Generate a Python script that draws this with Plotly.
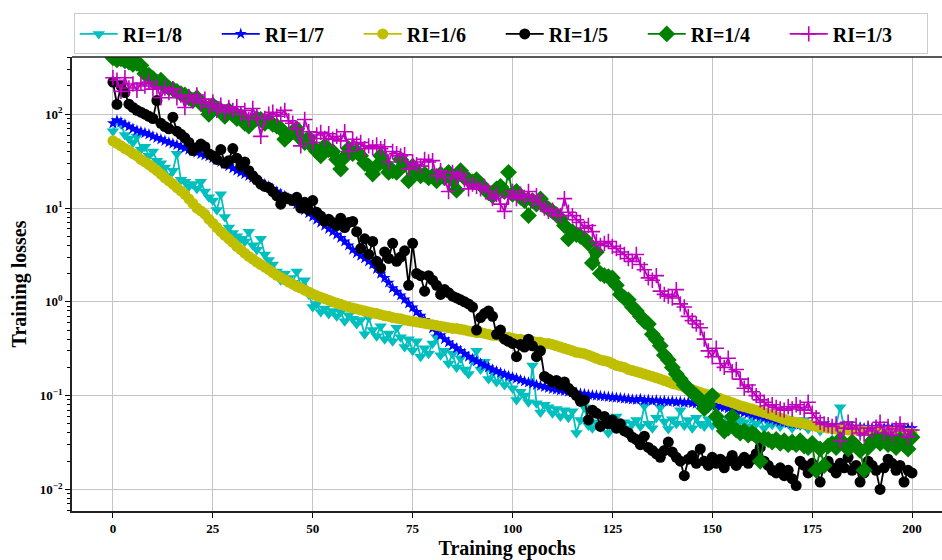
import plotly.graph_objects as go

# Training loss per epoch for each RI setting (epochs 0..200)
ri_1_8 = [
    66, 85, 78, 60, 55, 50, 58, 42, 45, 36, 40,
    32, 30, 27, 22, 25, 38, 20, 19, 17, 18,
    16, 19, 15, 13, 12, 9.5, 14, 8, 6.2, 5.4,
    5.0, 4.7, 4.4, 5.6, 4.0, 3.6, 4.7, 3.2, 2.8, 2.5,
    2.1, 1.7, 2.0, 1.8, 1.6, 2.1, 1.5, 1.7, 1.2, 0.88,
    0.95, 0.78, 0.85, 0.74, 0.80, 0.70, 0.78, 0.62, 0.72, 0.66,
    0.58, 0.64, 0.45, 0.68, 0.50, 0.43, 0.55, 0.40, 0.46, 0.38,
    0.53, 0.42, 0.33, 0.40, 0.30, 0.38, 0.26, 0.32, 0.28, 0.36,
    0.42, 0.27, 0.30, 0.22, 0.28, 0.20, 0.25, 0.19, 0.17, 0.24,
    0.30, 0.19, 0.23, 0.15, 0.18, 0.14, 0.17, 0.13, 0.16, 0.12,
    0.09, 0.11, 0.10, 0.085, 0.21, 0.083, 0.066, 0.08, 0.075, 0.065,
    0.072, 0.06, 0.07, 0.058, 0.068, 0.04, 0.055, 0.075, 0.048, 0.045,
    0.052, 0.046, 0.055, 0.04, 0.05, 0.06, 0.048, 0.052, 0.045, 0.05,
    0.055, 0.047, 0.078, 0.05, 0.045, 0.058, 0.075, 0.053, 0.044, 0.056,
    0.05, 0.07, 0.048, 0.055, 0.045, 0.058, 0.05, 0.047, 0.056, 0.048,
    0.06, 0.052, 0.048, 0.057, 0.05, 0.046, 0.055, 0.052, 0.047, 0.058,
    0.05, 0.056, 0.045, 0.052, 0.049, 0.055, 0.047, 0.053, 0.05, 0.045,
    0.052, 0.048, 0.055, 0.044, 0.05, 0.047, 0.042, 0.05, 0.046, 0.043,
    0.048, 0.075, 0.045, 0.05, 0.042, 0.046, 0.04, 0.045, 0.043, 0.039,
    0.044, 0.041, 0.046, 0.04, 0.043, 0.038, 0.042, 0.04, 0.037, 0.041,
]

ri_1_7 = [
    80, 86, 82, 78, 74, 70, 67, 65, 63, 61, 58,
    56, 54, 52, 50, 48.5, 47, 45, 43.5, 42, 40.5,
    39, 37.5, 36.5, 35.5, 34, 32.5, 31, 29.5, 28, 26.5,
    25, 24, 23, 22, 21, 20, 19, 18, 17, 16,
    15, 14.2, 13.4, 12.6, 11.8, 11.0, 10.2, 9.5, 8.8, 8.1,
    7.5, 7.0, 6.5, 6.0, 5.6, 5.2, 4.8, 4.4, 4.0, 3.6,
    3.3, 3.1, 2.9, 2.7, 2.5, 2.25, 2.0, 1.8, 1.6, 1.4,
    1.28, 1.17, 1.06, 0.96, 0.87, 0.78, 0.71, 0.64, 0.58, 0.52,
    0.48, 0.44, 0.40, 0.37, 0.34, 0.32, 0.30, 0.28, 0.26, 0.245,
    0.232, 0.22, 0.21, 0.20, 0.19, 0.182, 0.175, 0.168, 0.162, 0.157,
    0.152, 0.147, 0.142, 0.138, 0.134, 0.130, 0.127, 0.124, 0.121, 0.118,
    0.116, 0.114, 0.112, 0.110, 0.108, 0.107, 0.105, 0.104, 0.102, 0.101,
    0.100, 0.099, 0.098, 0.097, 0.096, 0.095, 0.094, 0.093, 0.092, 0.091,
    0.090, 0.092, 0.089, 0.090, 0.088, 0.089, 0.087, 0.088, 0.086, 0.087,
    0.085, 0.086, 0.084, 0.085, 0.083, 0.082, 0.083, 0.081, 0.080, 0.079,
    0.078, 0.076, 0.075, 0.073, 0.072, 0.070, 0.068, 0.066, 0.065, 0.063,
    0.061, 0.060, 0.058, 0.057, 0.056, 0.054, 0.053, 0.052, 0.051, 0.050,
    0.050, 0.049, 0.049, 0.048, 0.048, 0.047, 0.048, 0.047, 0.047, 0.046,
    0.047, 0.046, 0.046, 0.047, 0.046, 0.045, 0.046, 0.045, 0.046, 0.045,
    0.046, 0.045, 0.045, 0.046, 0.045, 0.045, 0.046, 0.045, 0.045, 0.045,
]

ri_1_6 = [
    52, 49, 46, 43, 41, 38, 36, 33, 31, 29, 27,
    25, 23, 21, 19.5, 18, 16.5, 15.2, 14.0, 12.5, 11.2,
    10.0, 9.3, 8.6, 7.6, 6.9, 6.2, 5.6, 5.1, 4.7, 4.3,
    3.9, 3.6, 3.3, 3.05, 2.85, 2.65, 2.5, 2.35, 2.2, 2.05,
    1.92, 1.82, 1.72, 1.62, 1.54, 1.46, 1.40, 1.33, 1.27, 1.21,
    1.16, 1.12, 1.08, 1.04, 1.00, 0.97, 0.94, 0.91, 0.88, 0.86,
    0.84, 0.82, 0.80, 0.78, 0.76, 0.75, 0.73, 0.71, 0.70, 0.68,
    0.67, 0.66, 0.64, 0.63, 0.62, 0.61, 0.60, 0.59, 0.58, 0.57,
    0.56, 0.55, 0.54, 0.53, 0.52, 0.52, 0.51, 0.50, 0.49, 0.48,
    0.47, 0.47, 0.46, 0.45, 0.44, 0.44, 0.43, 0.42, 0.42, 0.41,
    0.40, 0.40, 0.39, 0.38, 0.38, 0.37, 0.37, 0.36, 0.36, 0.35,
    0.34, 0.33, 0.32, 0.31, 0.30, 0.29, 0.285, 0.28, 0.27, 0.26,
    0.25, 0.24, 0.235, 0.23, 0.22, 0.21, 0.205, 0.20, 0.19, 0.185,
    0.18, 0.175, 0.17, 0.165, 0.16, 0.155, 0.15, 0.145, 0.14, 0.135,
    0.132, 0.128, 0.124, 0.12, 0.116, 0.112, 0.108, 0.105, 0.102, 0.099,
    0.096, 0.093, 0.09, 0.087, 0.084, 0.081, 0.078, 0.076, 0.074, 0.072,
    0.070, 0.068, 0.066, 0.064, 0.062, 0.060, 0.058, 0.056, 0.054, 0.053,
    0.052, 0.051, 0.050, 0.049, 0.048, 0.047, 0.046, 0.046, 0.045, 0.045,
    0.044, 0.044, 0.044, 0.043, 0.043, 0.043, 0.043, 0.042, 0.042, 0.042,
    0.042, 0.042, 0.041, 0.041, 0.041, 0.041, 0.040, 0.040, 0.040, 0.040,
]

ri_1_5 = [
    220, 127, 200, 170, 128, 118, 110, 105, 100, 95, 90,
    140, 80, 74, 70, 93, 66, 61, 56, 50, 41,
    44, 48, 45, 38, 36, 33, 42, 30, 32, 43,
    34, 28, 31, 25, 22, 20, 18, 17, 16.5, 15,
    13.5, 11, 13, 12.5, 12, 13, 10, 11.5, 9.5, 12,
    9, 8.2, 7.2, 7.6, 7.0, 6.5, 7.8, 6.2, 7.0, 7.2,
    5.6, 3.7, 4.7, 3.2, 4.4, 2.7, 2.3, 3.4, 2.9, 4.2,
    2.7, 3.0, 3.5, 1.5, 4.2, 2.0, 1.9, 1.3, 1.9, 1.7,
    1.5, 1.2, 1.35, 1.25, 1.15, 1.1, 1.05, 1.0, 0.95, 0.88,
    0.50, 0.68, 0.75, 0.80, 0.70, 0.45, 0.50, 0.40, 0.38, 0.36,
    0.26, 0.35, 0.33, 0.40, 0.34, 0.26, 0.30, 0.16, 0.15, 0.14,
    0.145, 0.13, 0.14, 0.12, 0.11, 0.10, 0.087, 0.09, 0.055, 0.07,
    0.065, 0.047, 0.06, 0.05, 0.055, 0.045, 0.05, 0.042, 0.04, 0.036,
    0.034, 0.03, 0.037, 0.028, 0.026, 0.024, 0.022, 0.026, 0.032, 0.025,
    0.022, 0.02, 0.014, 0.021, 0.023, 0.019, 0.027, 0.02, 0.018, 0.022,
    0.019, 0.021, 0.017, 0.02, 0.023, 0.018, 0.02, 0.022, 0.019, 0.021,
    0.024, 0.028, 0.02, 0.018, 0.016, 0.015, 0.017, 0.014, 0.016, 0.013,
    0.011, 0.02, 0.018, 0.015, 0.019, 0.017, 0.012, 0.018, 0.02, 0.017,
    0.015, 0.019, 0.017, 0.022, 0.016, 0.018, 0.012, 0.015, 0.02, 0.018,
    0.016, 0.01, 0.017, 0.021, 0.019, 0.016, 0.018, 0.012, 0.016, 0.015,
]

ri_1_4 = [
    400, 380, 390, 370, 360, 340, 350, 330, 270, 260, 240,
    220, 230, 200, 190, 185, 175, 165, 160, 150, 140,
    150, 130, 120, 100, 125, 115, 110, 95, 110, 100,
    90, 95, 80, 75, 85, 90, 88, 80, 85, 78,
    75, 70, 54, 60, 65, 70, 55, 50, 56, 45,
    40, 36, 46, 42, 40, 33, 26, 35, 43, 38,
    40, 36, 30, 28, 23, 28, 36, 30, 24, 25,
    24, 33, 29, 19.5, 28, 24, 22, 23, 21, 22,
    19.5, 23, 21, 24, 20, 15.5, 25, 21, 20, 19,
    20, 18, 16, 14.5, 13.5, 16, 17, 15, 24, 14,
    15, 13, 12, 8.3, 12, 11, 12.5, 10.5, 9.8, 9.2,
    8.5, 7.7, 6.5, 4.7, 5.6, 5.2, 5.0, 4.7, 4.2, 2.6,
    3.4, 2.0, 1.9, 1.85, 1.8, 1.5, 1.2, 1.1, 1.05, 0.88,
    0.80, 0.70, 0.62, 0.58, 0.45, 0.40, 0.34, 0.27, 0.24, 0.20,
    0.17, 0.15, 0.13, 0.12, 0.107, 0.10, 0.09, 0.073, 0.08, 0.10,
    0.06, 0.05, 0.042, 0.045, 0.06, 0.043, 0.04, 0.042, 0.038, 0.04,
    0.037, 0.02, 0.035, 0.034, 0.032, 0.034, 0.031, 0.033, 0.030, 0.032,
    0.03, 0.033, 0.029, 0.028, 0.031, 0.016, 0.027, 0.018, 0.029, 0.031,
    0.028, 0.034, 0.03, 0.027, 0.032, 0.029, 0.026, 0.016, 0.028, 0.033,
    0.035, 0.031, 0.036, 0.03, 0.033, 0.028, 0.034, 0.03, 0.027, 0.036,
]

ri_1_3 = [
    245, 230, 175, 245, 190, 210, 180, 215, 200, 220, 185,
    195, 150, 190, 170, 185, 150, 160, 118, 155, 140,
    160, 130, 145, 120, 135, 110, 125, 105, 118, 110,
    120, 100, 110, 88, 115, 95, 58, 90, 100, 105,
    95, 100, 110, 85, 80, 70, 46, 88, 65, 50,
    60, 64, 55, 62, 54, 58, 52, 65, 40, 54,
    48, 50, 43, 46, 44, 47, 43, 45, 31, 40,
    38, 36, 37, 26, 31, 29, 28, 33, 31, 32,
    22, 25, 21, 15, 24, 21, 23, 20, 16, 18,
    17, 16, 17, 15, 12.6, 14, 11, 9.2, 13, 15,
    12.6, 14, 13, 15, 12, 13.5, 11, 10, 9.2, 9.5,
    8.5, 8.3, 12.6, 9, 8.3, 7.5, 7.0, 6.1, 6.5, 5.6,
    4.4, 4.0, 4.2, 4.4, 3.9, 3.7, 3.4, 3.2, 2.9, 2.7,
    3.2, 2.5, 2.2, 1.8, 1.7, 1.9, 1.3, 1.2, 1.15, 1.1,
    1.35, 0.95, 0.88, 0.70, 0.63, 0.58, 0.53, 0.40, 0.30, 0.26,
    0.32, 0.22, 0.20, 0.25, 0.18, 0.19, 0.15, 0.12, 0.13, 0.11,
    0.10, 0.09, 0.085, 0.078, 0.08, 0.075, 0.072, 0.07, 0.076, 0.072,
    0.08, 0.075, 0.07, 0.085, 0.065, 0.058, 0.052, 0.05, 0.049, 0.047,
    0.05, 0.033, 0.045, 0.052, 0.044, 0.048, 0.04, 0.038, 0.045, 0.042,
    0.046, 0.052, 0.04, 0.047, 0.038, 0.044, 0.05, 0.042, 0.036, 0.043,
]

labels = ["RI=1/8", "RI=1/7", "RI=1/6", "RI=1/5", "RI=1/4", "RI=1/3"]
series = [ri_1_8, ri_1_7, ri_1_6, ri_1_5, ri_1_4, ri_1_3]
colors = ["#00bfbf", "#0000ff", "#bfbf00", "#000000", "#008000", "#bf00bf"]
symbols = ["triangle-down", "star", "circle", "circle", "diamond", "cross-thin"]
sizes = [11, 9, 11, 11, 13, 11]

# decade ticks with power-of-ten labels, minor ticks at 2..9 within each decade
y_decades = [-2, -1, 0, 1, 2]
y_tickvals = [10.0 ** e for e in y_decades]
y_ticktext = ["10<sup>%s</sup>" % str(e).replace("-", "\u2212") for e in y_decades]
y_minor = [k * 10.0 ** e for e in range(-3, 3) for k in range(2, 10)]

SERIF = "Liberation Serif"

fig = go.Figure()
for name, vals, col, sym, sz in zip(labels, series, colors, symbols, sizes):
    marker = dict(symbol=sym, size=sz, color=col)
    if sym == "cross-thin":
        marker["line"] = dict(color=col, width=1.6)
    else:
        marker["line"] = dict(width=0)
    fig.add_trace(go.Scatter(
        x=list(range(len(vals))), y=vals, name=name, mode="lines+markers",
        line=dict(color=col, width=1.8), marker=marker,
    ))

tick_font = dict(family=SERIF, size=13, color="black", weight="bold")
title_font = dict(family=SERIF, size=20, color="black", weight="bold")

fig.update_layout(
    width=942, height=560,
    margin=dict(l=72, r=0, t=57, b=45),
    paper_bgcolor="white", plot_bgcolor="white",
    showlegend=True,
    legend=dict(
        orientation="h", x=0.002, xanchor="left", y=1.096, yanchor="top",
        font=dict(family=SERIF, size=20, color="black", weight="bold"),
        bordercolor="#cccccc", borderwidth=1, bgcolor="white",
        itemwidth=38, entrywidth=89, entrywidthmode="pixels",
        tracegroupgap=0,
    ),
    xaxis=dict(
        range=[-10.25, 207.5], tickmode="array",
        tickvals=[0, 25, 50, 75, 100, 125, 150, 175, 200],
        ticks="outside", ticklen=5, tickwidth=1, tickcolor="black",
        showgrid=True, gridcolor="#c4c4c4", gridwidth=1.2,
        showline=True, linecolor="#222222", linewidth=1.6,
        zeroline=False, tickfont=tick_font,
        title=dict(text="Training epochs", font=title_font, standoff=10),
    ),
    yaxis=dict(
        type="log", range=[-2.23, 2.61], tickmode="array",
        tickvals=y_tickvals, ticktext=y_ticktext,
        ticks="outside", ticklen=5, tickwidth=1, tickcolor="black",
        minor=dict(tickmode="array", tickvals=y_minor, ticks="outside",
                   ticklen=3, tickcolor="black", showgrid=False),
        showgrid=True, gridcolor="#c4c4c4", gridwidth=1.2,
        showline=True, linecolor="#222222", linewidth=1.6,
        zeroline=False, tickfont=tick_font,
        title=dict(text="Training losses", font=title_font, standoff=8),
    ),
    shapes=[dict(type="line", xref="paper", yref="paper", x0=0, x1=1, y0=1, y1=1,
                 line=dict(color="#222222", width=1.6))],
)

fig.write_html("out.html")
